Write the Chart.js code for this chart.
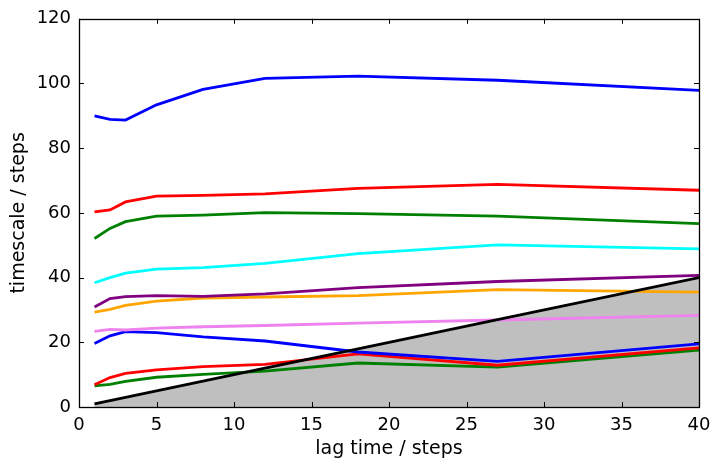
<!DOCTYPE html>
<html>
<head>
<meta charset="utf-8">
<script src="https://cdn.jsdelivr.net/npm/chart.js@4.4.1/dist/chart.umd.min.js"></script>
<style>
  html, body { margin: 0; padding: 0; background: #ffffff; }
  #wrap { width: 720px; height: 467px; position: relative; }
</style>
</head>
<body>
<div id="wrap"><canvas id="c" width="720" height="467"></canvas></div>
<script>
// ---- data ----
const lagTimes = [1, 2, 3, 5, 8, 12, 18, 27, 40];
const its1  = [90.0, 88.9, 88.7, 93.4, 98.2, 101.6, 102.3, 101.0, 97.9];
const its2  = [60.3, 60.9, 63.4, 65.2, 65.4, 65.9, 67.6, 68.8, 67.0];
const its3  = [52.1, 55.2, 57.3, 59.0, 59.3, 60.1, 59.8, 59.0, 56.7];
const its4  = [38.4, 40.0, 41.4, 42.6, 43.1, 44.4, 47.4, 50.1, 48.9];
const its5  = [30.9, 33.5, 34.1, 34.4, 34.2, 35.0, 36.9, 38.8, 40.7];
const its6  = [29.3, 30.2, 31.4, 32.7, 33.7, 34.0, 34.4, 36.3, 35.5];
const its7  = [23.4, 24.0, 23.8, 24.4, 24.8, 25.2, 25.9, 26.9, 28.3];
const its8  = [19.6, 22.0, 23.3, 23.0, 21.7, 20.4, 17.0, 14.1, 19.5];
const its9  = [6.9, 9.1, 10.4, 11.5, 12.5, 13.2, 16.4, 12.9, 18.3];
const its10 = [6.5, 7.0, 7.9, 9.2, 10.1, 11.1, 13.6, 12.3, 17.6];
const lagLine = [1, 2, 3, 5, 8, 12, 18, 27, 40];
const seriesList = [its1, its2, its3, its4, its5, its6, its7, its8, its9, its10];
const seriesColors = ['#0000ff', '#ff0000', '#008000', '#00ffff', '#800080', '#ffa500', '#ee82ee', '#0000ff', '#ff0000', '#008000'];
const xTicks = [0, 5, 10, 15, 20, 25, 30, 35, 40];
const yTicks = [0, 20, 40, 60, 80, 100, 120];

const toPts = (ys) => lagTimes.map((x, i) => ({ x: x, y: ys[i] }));

const datasets = [];
// black lag-time line with grey fill, drawn on top
datasets.push({
  data: toPts(lagLine),
  borderColor: '#000000',
  borderWidth: 2.8,
  backgroundColor: '#bfbfbf',
  fill: 'origin',
  pointRadius: 0,
  tension: 0
});
seriesList.forEach((s, i) => {
  datasets.push({
    data: toPts(s),
    borderColor: seriesColors[i],
    borderWidth: 2.8,
    fill: false,
    pointRadius: 0,
    tension: 0
  });
});

const fontFam = "'DejaVu Sans', sans-serif";

const frameTicks = {
  id: 'frameTicks',
  afterDraw(chart) {
    const ctx = chart.ctx;
    const a = chart.chartArea;
    const xs = chart.scales.x, ys = chart.scales.y;
    ctx.save();
    ctx.strokeStyle = '#000000';
    ctx.lineWidth = 1;
    const L = 5;
    ctx.beginPath();
    xTicks.forEach(v => {
      const px = Math.round(xs.getPixelForValue(v)) + 0.5;
      ctx.moveTo(px, a.bottom); ctx.lineTo(px, a.bottom - L);
      ctx.moveTo(px, a.top); ctx.lineTo(px, a.top + L);
    });
    yTicks.forEach(v => {
      const py = Math.round(ys.getPixelForValue(v)) + 0.5;
      ctx.moveTo(a.left, py); ctx.lineTo(a.left + L, py);
      ctx.moveTo(a.right, py); ctx.lineTo(a.right - L, py);
    });
    ctx.stroke();
    ctx.lineWidth = 1.3;
    ctx.strokeRect(Math.round(a.left) + 0.5, Math.round(a.top) + 0.5,
                   Math.round(a.right - a.left), Math.round(a.bottom - a.top));
    ctx.restore();
  }
};

new Chart(document.getElementById('c'), {
  type: 'line',
  data: { datasets: datasets },
  options: {
    responsive: false,
    animation: false,
    events: [],
    layout: { padding: { top: 18, right: 21, left: 0, bottom: 0 } },
    plugins: {
      legend: { display: false },
      tooltip: { enabled: false },
      filler: { drawTime: 'beforeDatasetsDraw' }
    },
    scales: {
      x: {
        type: 'linear',
        min: 0, max: 40,
        afterBuildTicks: (sc) => { sc.ticks = xTicks.map(v => ({ value: v })); },
        afterFit: (sc) => { sc.height = 60; },
        grid: { display: false, drawTicks: false },
        border: { display: false },
        ticks: { color: '#000000', font: { family: fontFam, size: 18 }, padding: 8, maxRotation: 0, autoSkip: false },
        title: { display: true, text: 'lag time / steps', color: '#000000', font: { family: fontFam, size: 19 }, padding: { top: 0, bottom: 7 } }
      },
      y: {
        type: 'linear',
        min: 0, max: 120,
        afterBuildTicks: (sc) => { sc.ticks = yTicks.map(v => ({ value: v })); },
        afterFit: (sc) => { sc.width = 79; },
        grid: { display: false, drawTicks: false },
        border: { display: false },
        ticks: { color: '#000000', font: { family: fontFam, size: 18 }, padding: 8, autoSkip: false },
        title: { display: true, text: 'timescale / steps', color: '#000000', font: { family: fontFam, size: 19 }, padding: { top: 8, bottom: 0 } }
      }
    }
  },
  plugins: [frameTicks]
});
</script>
</body>
</html>
